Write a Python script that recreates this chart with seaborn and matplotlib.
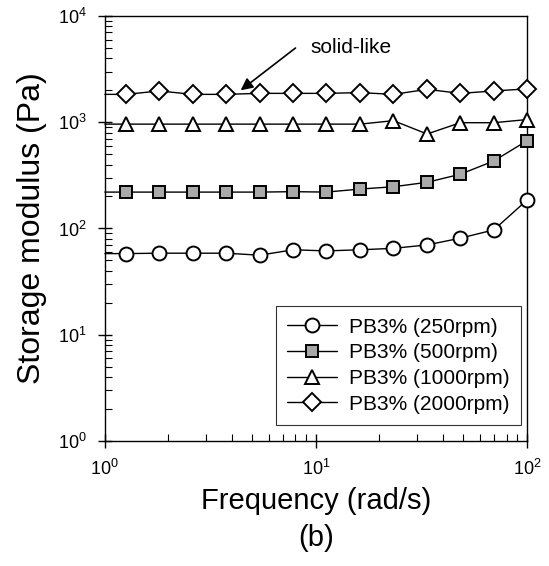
import matplotlib
matplotlib.use("Agg")
import matplotlib.pyplot as plt
import seaborn as sns
import pandas as pd
import numpy as np

freq = [1.0, 1.26, 1.81, 2.61, 3.76, 5.41, 7.80, 11.2, 16.2, 23.3, 33.6, 48.3, 69.6, 100.0]
g_250 = [58, 58, 58.5, 58.5, 58.5, 56, 63, 61.5, 63, 65, 70, 81, 97, 185]
g_500 = [220, 220, 220, 220, 220, 220, 222, 220, 235, 247, 272, 324, 432, 670]
g_1000 = [960, 960, 960, 960, 960, 960, 960, 960, 960, 1035, 775, 990, 990, 1060]
g_2000 = [1830, 1830, 1970, 1830, 1830, 1870, 1870, 1870, 1900, 1830, 2040, 1870, 1970, 2060]
labels = ["PB3% (250rpm)", "PB3% (500rpm)", "PB3% (1000rpm)", "PB3% (2000rpm)"]

sns.set_theme(style="ticks")
plt.rcParams["font.family"] = ["Liberation Sans", "DejaVu Sans"]
plt.rcParams["mathtext.fontset"] = "custom"
plt.rcParams["mathtext.rm"] = "Liberation Sans"
plt.rcParams["mathtext.it"] = "Liberation Sans:italic"
for k in ["text.color", "axes.labelcolor", "xtick.color", "ytick.color",
          "xtick.labelcolor", "ytick.labelcolor", "axes.edgecolor"]:
    plt.rcParams[k] = "black"

fig = plt.figure(figsize=(5.49, 5.66), dpi=100)
ax = fig.add_axes([0.191, 0.221, 0.769, 0.7507])

styles = [
    dict(marker="o", markersize=10, mfc="white"),
    dict(marker="s", markersize=8, mfc="#a9a9a9"),
    dict(marker="^", markersize=10, mfc="white"),
    dict(marker="D", markersize=9, mfc="white"),
]
series = [g_250, g_500, g_1000, g_2000]
for vals, lab, st in zip(series, labels, styles):
    df = pd.DataFrame({"freq": freq, "G": vals})
    sns.lineplot(data=df, x="freq", y="G", ax=ax, color="black", lw=1.0,
                 marker=st["marker"], markersize=st["markersize"],
                 markerfacecolor=st["mfc"], markeredgecolor="black",
                 markeredgewidth=1.4, markevery=list(range(1, len(freq))),
                 label=lab, clip_on=False, zorder=3)

ax.set_xscale("log")
ax.set_yscale("log")
ax.set_xlim(1, 100)
ax.set_ylim(1, 1e4)

ax.tick_params(which="major", direction="inout", length=10, width=1.0,
               labelsize=13, colors="black", pad=8)
ax.tick_params(which="minor", direction="in", length=5, width=0.8, colors="black")
ax.tick_params(axis="y", which="both", left=True, right=False)
ax.tick_params(axis="x", which="both", bottom=True, top=False)
for s in ax.spines.values():
    s.set_color("black")
    s.set_linewidth(1.0)

ax.set_xlabel("Frequency (rad/s)", fontsize=21, labelpad=6, color="black")
ax.set_ylabel("Storage modulus (Pa)", fontsize=23, labelpad=8, color="black")

ax.annotate("", xy=(4.4, 2000), xytext=(8.0, 5000),
            arrowprops=dict(arrowstyle="-|>", color="black", lw=1.2,
                            mutation_scale=18, shrinkA=0, shrinkB=0))
ax.text(9.4, 5100, "solid-like", fontsize=15, va="center", ha="left", color="black")

leg = ax.legend(loc="lower right", bbox_to_anchor=(0.985, 0.037),
                fontsize=15, frameon=True, fancybox=False, edgecolor="black",
                handlelength=2.4, labelspacing=0.32, borderpad=0.55,
                handletextpad=0.55, borderaxespad=0, numpoints=1)
leg.get_frame().set_linewidth(0.8)
for h in leg.legend_handles:
    h.set_markevery([1])
for t in leg.get_texts():
    t.set_color("black")

fig.text(0.5 * (0.191 + 0.96), 1 - 538 / 566, "(b)", fontsize=21,
         ha="center", va="center", color="black")

fig.savefig("out.png", dpi=100)
